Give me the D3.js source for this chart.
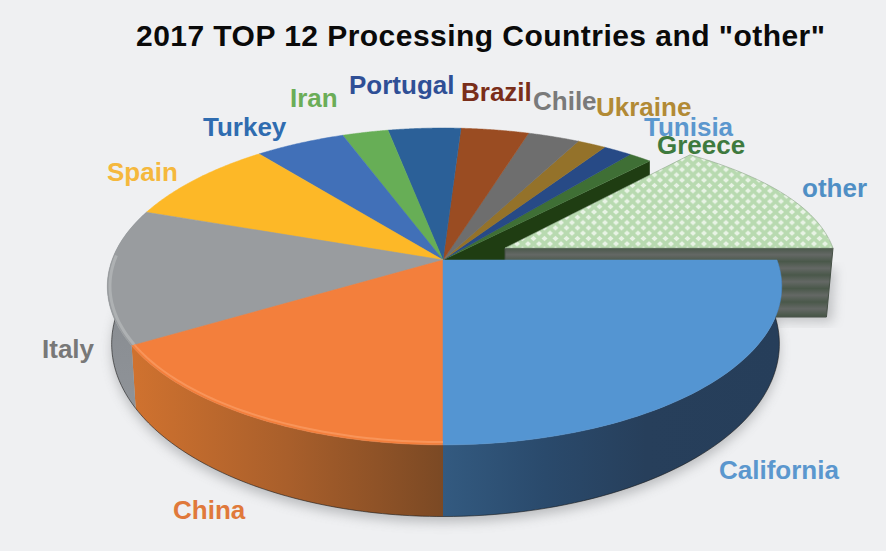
<!DOCTYPE html>
<html><head><meta charset="utf-8">
<script src="https://cdn.jsdelivr.net/npm/d3@7"></script>
<style>html,body{margin:0;padding:0;background:#eff0f2}svg{display:block}text{font-family:"Liberation Sans",Arial,sans-serif;font-weight:700}</style>
</head><body><svg id="c" width="886" height="551"></svg>
<script>
const categories=["California","China","Italy","Spain","Turkey","Iran","Portugal","Brazil","Chile","Ukraine","Tunisia","Greece","other"];
const shares=[25,16.5,13.8,8.9,5.1,2.6,4.1,3.8,2.9,1.6,1.6,1.3,12.8];
const sliceColors=["#5495d2","#f37f3c","#999c9f","#fdb827","#4170b8","#67ae56","#2b6098","#9a4c22","#6e6e6e","#94722a","#274a86","#3f6f35","url(#chk)"];
const labelColors=["#5b97ce","#e0793b","#787878","#f5b83d","#2f6cb0","#6bad58","#2f4f96","#7a2e1a","#7a7a7a","#b28a35","#5b97ce","#3e7a3e","#4f8fc5"];
const labelPos=[[719,479],[173,519],[42,358],[107,181],[203,136],[290,107],[349,94],[461,101],[533,110],[596,116],[644,136],[657,154],[802,197]];
const titleText='2017 TOP 12 Processing Countries and "other"';

const svg=d3.select("#c");
const defs=svg.append("defs");
svg.append("rect").attr("width",886).attr("height",551).attr("fill","#eff0f2");

// perspective disc
const P={cx:443,cy:260,Rr:334,Rl:331,S:154,k:0.167};
const top3=(t)=>{const u=Math.cos(t),v=Math.sin(t),w=1-P.k*v;return [P.cx+(u>0?P.Rr:P.Rl)*u/w,P.cy+P.S*v/w];};
const low3=(t)=>{const p=top3(t);return [P.cx+(p[0]-P.cx)*(p[0]>P.cx?0.993:0.987),315+(p[1]-P.cy)*1.09];};
const O={ax:505,ay:248,R:328,S:145,pull:18};
const otherTop=(t)=>{const u=Math.cos(t),v=Math.sin(t),w=1-P.k*v;const y=O.S*v/w;
  return [O.ax+O.R*u/w-O.pull*Math.pow(Math.abs(y)/93,3),O.ay+y];};

const pie=d3.pie().sort(null).value(d=>d).startAngle(0).endAngle(2*Math.PI);
const arcs=pie(shares);
const line=d3.line();
const samp=(a,b,f)=>d3.range(0,61).map(i=>f(a+(b-a)*i/60));
const apex=[P.cx,P.cy];

// gradients
function grad(id,stops,attrs){const g=defs.append("linearGradient").attr("id",id);
  Object.entries(attrs||{}).forEach(([k,v])=>g.attr(k,v));
  stops.forEach(s=>g.append("stop").attr("offset",s[0]).attr("stop-color",s[1]));}
grad("wCal",[[0,"#335a80"],[0.3,"#2a4a6c"],[0.6,"#273f5b"],[1,"#263e5a"]]);
grad("wChi",[[0,"#d0722f"],[0.5,"#a95f2b"],[1,"#7b4924"]]);
grad("wIta",[[0,"#83878c"],[1,"#8f9398"]],{x1:0,x2:0,y1:0,y2:1});
grad("wOth",[[0,"#4a584a"],[0.5,"#646865"],[1,"#4a584a"]],{gradientUnits:"userSpaceOnUse",x1:0,x2:0,y1:248,y2:261.5,spreadMethod:"repeat"});
const chk=defs.append("pattern").attr("id","chk").attr("patternUnits","userSpaceOnUse").attr("width",11).attr("height",10.6);
chk.append("rect").attr("width",11).attr("height",10.6).attr("fill","#b8dab0");
[[0,0],[5.5,5.3],[11,0],[0,10.6],[11,10.6]].forEach(c=>chk.append("path")
  .attr("d",line([[c[0]-3,c[1]],[c[0],c[1]-2.6],[c[0]+3,c[1]],[c[0],c[1]+2.6]])+"Z").attr("fill","#e8f3e5"));
const blur=defs.append("filter").attr("id","blur").attr("x","-10%").attr("y","-10%").attr("width","120%").attr("height","120%");
blur.append("feGaussianBlur").attr("stdDeviation",6);

const n=categories.length, other=arcs[n-1], greece=arcs[n-2];

// soft shadows
svg.append("path").attr("d",line(samp(0,2*Math.PI,low3).map(p=>[p[0],p[1]+6]))+"Z").attr("fill","#6a6d70").attr("opacity",.4).attr("filter","url(#blur)");
const oa=otherTop(2*Math.PI);
const wallBottom=(p)=>[O.ax+(p[0]-O.ax)*0.98,p[1]+69];
svg.append("path").attr("d",line([[O.ax+200,O.ay+73],[wallBottom(oa)[0]+6,O.ay+74],[oa[0]+2,O.ay+20],[oa[0]-30,O.ay+20]])+"Z").attr("fill","#6a6d70").attr("opacity",.35).attr("filter","url(#blur)");

// Greece inner wall, hidden below by the exploded slice
const ge=top3(greece.endAngle);
svg.append("path").attr("d",line([apex,ge,[ge[0],ge[1]+69],[apex[0],apex[1]+69]])+"Z").attr("fill","#1f3d12");

// exploded slice
svg.append("path").attr("d",line([[O.ax,O.ay],oa,wallBottom(oa),wallBottom([O.ax,O.ay])])+"Z").attr("fill","url(#wOth)").attr("stroke","#454f45").attr("stroke-width",1);
svg.append("path").attr("d",line([[O.ax,O.ay]].concat(samp(other.startAngle,other.endAngle,otherTop)))+"Z").attr("fill",sliceColors[n-1]).attr("stroke","#8fa58b").attr("stroke-width",.6);

// outer walls of the three front slices
const wallIds=["wCal","wChi","wIta"];
wallIds.forEach((id,i)=>{const a=arcs[i];
  const t=samp(a.startAngle,a.endAngle,top3), b=samp(a.startAngle,a.endAngle,low3).reverse();
  svg.append("path").attr("d",line(t.concat(b))+"Z").attr("fill",`url(#${id})`);
  svg.append("path").attr("d",line(b)).attr("fill","none").attr("stroke","#1a1a1a").attr("stroke-width",.8).attr("opacity",.75);
});

// top faces, clockwise from the east, except the exploded one
arcs.slice(0,n-1).reverse().forEach(a=>{
  const pts=[apex].concat(samp(a.startAngle,a.endAngle,top3));
  svg.append("path").attr("d",line(pts)+"Z").attr("fill",sliceColors[a.index]).attr("stroke",sliceColors[a.index]).attr("stroke-width",.5);
});
// bevel just inside the front rim of China and Italy
const inset=(p)=>[P.cx+(p[0]-P.cx)*0.992,P.cy+(p[1]-P.cy)*0.985];
[["#f99a60",1,1,2],["#b3b6b8",2,0.65,3]].forEach(([col,i,frac,w])=>{
  const a=arcs[i], end=a.startAngle+(a.endAngle-a.startAngle)*frac;
  svg.append("path").attr("d",line(samp(a.startAngle,end,top3).map(inset)))
   .attr("fill","none").attr("stroke",col).attr("stroke-width",w).attr("opacity",.8);
});

// labels and title
svg.selectAll("text.l").data(categories).join("text").attr("class","l")
  .attr("x",(d,i)=>labelPos[i][0]).attr("y",(d,i)=>labelPos[i][1])
  .attr("fill",(d,i)=>labelColors[i]).attr("font-size",26).text(d=>d);
svg.append("text").attr("x",136).attr("y",46).attr("font-size",30).attr("fill","#0a0a0a")
  .attr("textLength",689).attr("lengthAdjust","spacing").text(titleText);
</script></body></html>
